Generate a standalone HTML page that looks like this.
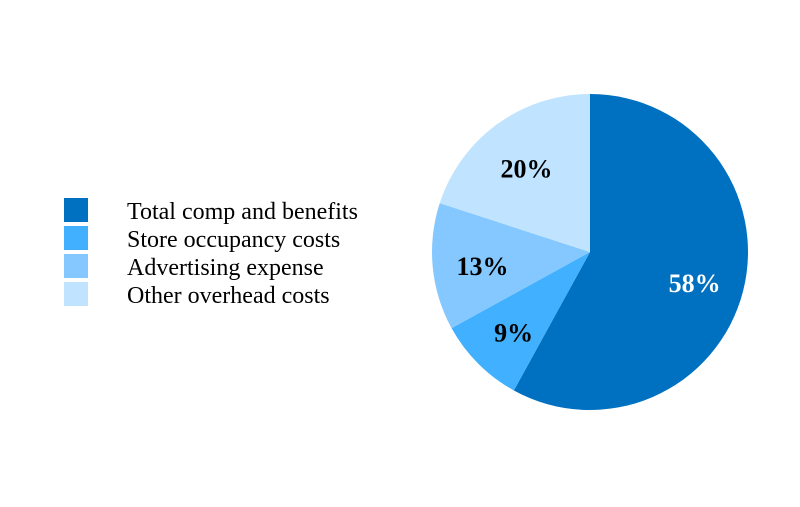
<!DOCTYPE html>
<html><head><meta charset="utf-8"><style>
body{margin:0;background:#fff;}
svg text{font-family:"Liberation Serif",serif;}
</style></head><body>
<svg id="chart" width="800" height="502" xmlns="http://www.w3.org/2000/svg">
<g id="legend"></g>
<g id="slices"></g>
<g id="labels"></g>
</svg>
<script>
const categories = ["Total comp and benefits","Store occupancy costs","Advertising expense","Other overhead costs"];
const values = [58, 9, 13, 20];
const valueLabels = ["58%","9%","13%","20%"];
const colors = ["#0070C0","#40B0FF","#85C8FF","#C0E4FF"];
const labelColors = ["#fff","#000","#000","#000"];
const NS="http://www.w3.org/2000/svg";
const cx=590, cy=252, r=158, lr=108;
const total=values.reduce((a,b)=>a+b,0);
const sl=document.getElementById('slices'), lb=document.getElementById('labels'), lg=document.getElementById('legend');
function pt(a,rad){return [cx+rad*Math.sin(a), cy-rad*Math.cos(a)];}
let acc=0;
values.forEach((v,i)=>{
  const a0=acc/total*2*Math.PI; acc+=v; const a1=acc/total*2*Math.PI;
  const p0=pt(a0,r), p1=pt(a1,r);
  const path=document.createElementNS(NS,'path');
  path.setAttribute('d',`M${cx},${cy}L${p0[0]},${p0[1]}A${r},${r} 0 ${a1-a0>Math.PI?1:0} 1 ${p1[0]},${p1[1]}Z`);
  path.setAttribute('fill',colors[i]);
  
  
  sl.appendChild(path);
  const m=pt((a0+a1)/2,lr);
  const t=document.createElementNS(NS,'text');
  t.setAttribute('x',m[0]); t.setAttribute('y',m[1]+13);
  t.setAttribute('text-anchor','middle');
  t.setAttribute('font-size','26'); t.setAttribute('font-weight','bold');
  t.setAttribute('fill',labelColors[i]);
  t.textContent=valueLabels[i];
  
  
  lb.appendChild(t);
  const rect=document.createElementNS(NS,'rect');
  rect.setAttribute('x',64); rect.setAttribute('y',198+i*28);
  rect.setAttribute('width',24); rect.setAttribute('height',24);
  rect.setAttribute('fill',colors[i]);
  
  
  lg.appendChild(rect);
  const lt=document.createElementNS(NS,'text');
  lt.setAttribute('x',127); lt.setAttribute('y',219+i*28);
  lt.setAttribute('font-size','24'); lt.setAttribute('fill','#000');
  lt.textContent=categories[i];
  
  
  lg.appendChild(lt);
});
</script>
</body></html>
